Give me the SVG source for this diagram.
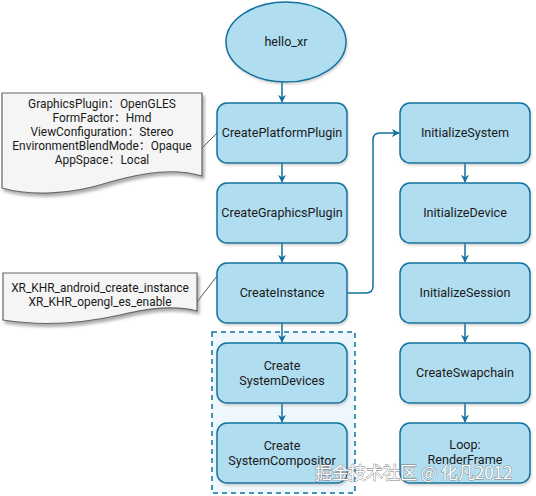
<svg xmlns="http://www.w3.org/2000/svg" width="536" height="496" viewBox="0 0 536 496">
<defs>
<style>
.box{fill:#b1ddf0;stroke:#10739e;stroke-width:1.5}
.t{font-family:Roboto,"Noto Sans CJK SC",sans-serif;font-size:12.6px;fill:#1a1a1a;text-anchor:middle}
.n{font-family:Roboto,"Noto Sans CJK SC",sans-serif;font-size:11.9px;fill:#1a1a1a;text-anchor:middle}
.note{fill:#f5f5f5;stroke:#666;stroke-width:1.2}
.c{fill:none;stroke:#10739e;stroke-width:1.5}
.l{fill:none;stroke:#555;stroke-width:1}
.wm{font-family:"Noto Sans CJK SC","Noto Sans",sans-serif;font-size:17px;fill:#fff;stroke:#777;stroke-width:0.8;paint-order:stroke}
</style>
<marker id="arr" viewBox="0 0 10 10" refX="9" refY="5" markerWidth="8" markerHeight="8" orient="auto" markerUnits="userSpaceOnUse">
<path d="M0,0 L10,5 L0,10 L3,5 Z" fill="#10739e"/>
</marker>
<filter id="sh" x="-10%" y="-10%" width="130%" height="140%">
<feDropShadow dx="2" dy="3" stdDeviation="1.5" flood-color="#777" flood-opacity="0.6"/>
</filter>
<filter id="sh2" x="-10%" y="-10%" width="130%" height="140%">
<feDropShadow dx="1" dy="2" stdDeviation="1" flood-color="#888" flood-opacity="0.35"/>
</filter>
</defs>
<rect width="536" height="496" fill="#fff"/>

<g id="group">
<rect x="212" y="332" width="143" height="161" fill="#eef7fc" stroke="#10739e" stroke-width="1.5" stroke-dasharray="5,4"/>
</g>

<g id="connectors">
<line class="c" x1="282" y1="82" x2="282" y2="102" marker-end="url(#arr)"/>
<line class="c" x1="282" y1="163" x2="282" y2="182" marker-end="url(#arr)"/>
<line class="c" x1="282" y1="243" x2="282" y2="262" marker-end="url(#arr)"/>
<line class="c" x1="282" y1="323" x2="282" y2="342" marker-end="url(#arr)"/>
<line class="c" x1="282" y1="403" x2="282" y2="422" marker-end="url(#arr)"/>
<line class="c" x1="465" y1="163" x2="465" y2="182" marker-end="url(#arr)"/>
<line class="c" x1="465" y1="243" x2="465" y2="262" marker-end="url(#arr)"/>
<line class="c" x1="465" y1="323" x2="465" y2="342" marker-end="url(#arr)"/>
<line class="c" x1="465" y1="403" x2="465" y2="422" marker-end="url(#arr)"/>
<path class="c" d="M347,293 H366 Q373,293 373,286 V140 Q373,133 380,133 H399" marker-end="url(#arr)"/>
<line class="l" x1="202" y1="148" x2="217" y2="133"/>
<line class="l" x1="197" y1="302" x2="217" y2="276"/>
</g>

<g id="hello_xr">
<ellipse cx="286" cy="42" rx="60" ry="40" class="box" filter="url(#sh2)"/>
<text class="t" x="286" y="46">hello_xr</text>
</g>

<g id="note1">
<path class="note" filter="url(#sh)" d="M2,93 H202 V176 C175,168 145,172 110,182 C70,195 30,196 2,188 Z"/>
<text class="n" x="102" y="108">GraphicsPlugin：OpenGLES</text>
<text class="n" x="102" y="122">FormFactor：Hmd</text>
<text class="n" x="102" y="136">ViewConfiguration：Stereo</text>
<text class="n" x="102" y="150">EnvironmentBlendMode：Opaque</text>
<text class="n" x="102" y="164">AppSpace：Local</text>
</g>

<g id="note2">
<path class="note" filter="url(#sh)" d="M3,273 H197 V311 C175,305 150,308 120,315 C80,324 40,326 3,320 Z"/>
<text class="n" x="100" y="292">XR_KHR_android_create_instance</text>
<text class="n" x="100" y="306">XR_KHR_opengl_es_enable</text>
</g>

<g id="CreatePlatformPlugin">
<rect class="box" x="217" y="103" width="130" height="60" rx="10" filter="url(#sh2)"/>
<text class="t" x="282" y="137">CreatePlatformPlugin</text>
</g>
<g id="CreateGraphicsPlugin">
<rect class="box" x="217" y="183" width="130" height="60" rx="10" filter="url(#sh2)"/>
<text class="t" x="282" y="217">CreateGraphicsPlugin</text>
</g>
<g id="CreateInstance">
<rect class="box" x="217" y="263" width="130" height="60" rx="10" filter="url(#sh2)"/>
<text class="t" x="282" y="297">CreateInstance</text>
</g>
<g id="CreateSystemDevices">
<rect class="box" x="217" y="343" width="130" height="60" rx="10" filter="url(#sh2)"/>
<text class="t" x="282" y="370">Create</text>
<text class="t" x="282" y="385">SystemDevices</text>
</g>
<g id="CreateSystemCompositor">
<rect class="box" x="217" y="423" width="130" height="60" rx="10" filter="url(#sh2)"/>
<text class="t" x="282" y="450">Create</text>
<text class="t" x="282" y="465">SystemCompositor</text>
</g>

<g id="InitializeSystem">
<rect class="box" x="400" y="103" width="130" height="60" rx="10" filter="url(#sh2)"/>
<text class="t" x="465" y="137">InitializeSystem</text>
</g>
<g id="InitializeDevice">
<rect class="box" x="400" y="183" width="130" height="60" rx="10" filter="url(#sh2)"/>
<text class="t" x="465" y="217">InitializeDevice</text>
</g>
<g id="InitializeSession">
<rect class="box" x="400" y="263" width="130" height="60" rx="10" filter="url(#sh2)"/>
<text class="t" x="465" y="297">InitializeSession</text>
</g>
<g id="CreateSwapchain">
<rect class="box" x="400" y="343" width="130" height="60" rx="10" filter="url(#sh2)"/>
<text class="t" x="465" y="377">CreateSwapchain</text>
</g>
<g id="Loop">
<rect class="box" x="400" y="423" width="130" height="60" rx="10" filter="url(#sh2)"/>
<text class="t" x="465" y="449">Loop:</text>
<text class="t" x="465" y="464">RenderFrame</text>
</g>

<text class="wm" x="315" y="479">掘金技术社区 @ 化凡2012</text>
</svg>
